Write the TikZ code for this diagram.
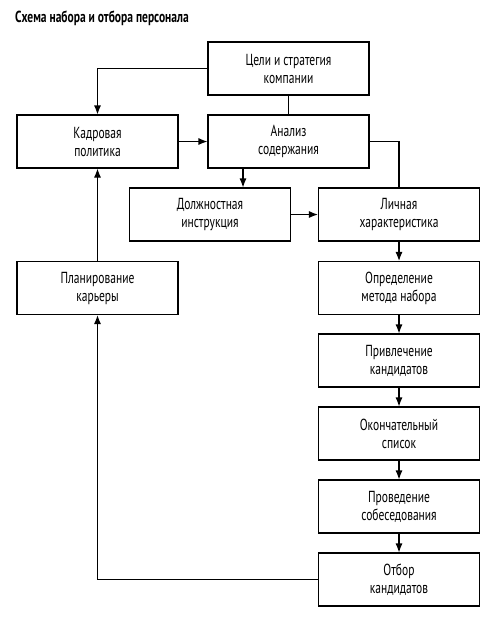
\documentclass[tikz,border=0pt]{standalone}
\usepackage{fontspec}
\setmainfont{PT Sans}[FakeStretch=0.72]
\usetikzlibrary{arrows.meta}
\begin{document}
\begin{tikzpicture}[x=1pt,y=-1pt,
  box/.style={draw,line width=1.1pt,minimum width=161pt,minimum height=53pt,inner sep=0pt,align=center,font=\fontsize{16}{18}\selectfont},
  conn/.style={line width=1.1pt},
  arr/.style={conn,-{Latex[length=9pt,width=7pt]}}]
\useasboundingbox (0,0) rectangle (496,622);
\node[anchor=base west,inner sep=0pt,font=\fontsize{16}{18}\selectfont\bfseries] (title) at (15,22) {Схема набора и отбора персонала};
\node[box] (cel) at (288.5,68.5) {Цели и стратегия\\компании};
\node[box] (kadr) at (97.5,141.5) {Кадровая\\политика};
\node[box] (anal) at (288.5,141.5) {Анализ\\содержания};
\node[box] (dolzh) at (210,214.5) {Должностная\\инструкция};
\node[box] (lich) at (399,214.5) {Личная\\характеристика};
\node[box] (plan) at (97.5,288) {Планирование\\карьеры};
\node[box] (opred) at (399,288) {Определение\\метода набора};
\node[box] (privl) at (399,360.5) {Привлечение\\кандидатов};
\node[box] (okonch) at (399,433.5) {Окончательный\\список};
\node[box] (prov) at (399,506.5) {Проведение\\собеседования};
\node[box] (otbor) at (399,579.5) {Отбор\\кандидатов};
\coordinate (c1) at (243,0);
\draw[arr] (cel.west) -| (kadr.north);
\draw[conn] (cel.south) -- (anal.north);
\draw[arr] (kadr.east) -- (anal.west);
\draw[conn] (anal.east) -| (lich.north);
\draw[arr] (anal.south -| c1) -- (dolzh.north -| c1);
\draw[arr] (dolzh.east) -- (lich.west);
\draw[arr] (lich.south) -- (opred.north);
\draw[arr] (opred.south) -- (privl.north);
\draw[arr] (privl.south) -- (okonch.north);
\draw[arr] (okonch.south) -- (prov.north);
\draw[arr] (prov.south) -- (otbor.north);
\draw[arr] (plan.north) -- (kadr.south);
\draw[arr] (otbor.west) -| (plan.south);
\end{tikzpicture}
\end{document}
